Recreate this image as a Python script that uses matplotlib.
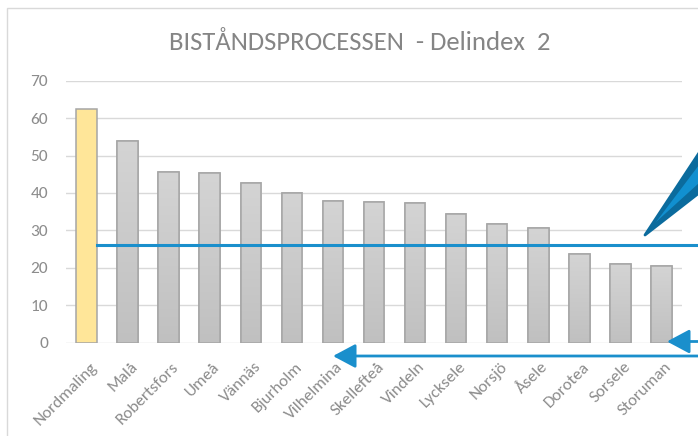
import matplotlib
matplotlib.use('Agg')
import matplotlib.pyplot as plt
import numpy as np
from matplotlib.patches import Polygon, Rectangle
from matplotlib.colors import LinearSegmentedColormap
from matplotlib.transforms import blended_transform_factory, offset_copy

categories = ['Nordmaling', 'Malå', 'Robertsfors', 'Umeå', 'Vännäs', 'Bjurholm',
              'Vilhelmina', 'Skellefteå', 'Vindeln', 'Lycksele', 'Norsjö', 'Åsele',
              'Dorotea', 'Sorsele', 'Storuman']
values = [62.5, 53.9, 45.6, 45.3, 42.8, 40.1, 37.9, 37.6, 37.2, 34.5, 31.7, 30.7,
          23.8, 21.1, 20.6]
highlight = 'Nordmaling'
reference_value = 26.1
y_ticks = [0, 10, 20, 30, 40, 50, 60, 70]
title = 'BISTÅNDSPROCESSEN  - Delindex  2'

FONT = ['Carlito', 'Open Sans', 'DejaVu Sans']
plt.rcParams['font.family'] = FONT

W, H = 698, 436
fig = plt.figure(figsize=(W / 100, H / 100), dpi=100)


def fx(px):
    return px / W


def fy(py):
    return 1 - py / H


# outer chart border
fig.patches.append(Rectangle((fx(7), fy(460)), fx(760) - fx(7), fy(8) - fy(460),
                             transform=fig.transFigure, fill=False,
                             edgecolor='#d9d9d9', linewidth=1.0, zorder=0))

ax = fig.add_axes([fx(66), fy(342.7), fx(682) - fx(66), fy(80.7) - fy(342.7)])
ax.set_xlim(-0.5, len(categories) - 0.5)
ax.set_ylim(0, 70)

x = np.arange(len(categories))
colors = ['#ffe699' if c == highlight else '#cacaca' for c in categories]
bars = ax.bar(x, values, width=0.5, color=colors, edgecolor='#a6a6a6',
              linewidth=1.1, zorder=3)

# subtle vertical gradient on the grey bars
cmap = LinearSegmentedColormap.from_list('g', ['#c0c0c0', '#d4d4d4'])
grad = np.linspace(0, 1, 256).reshape(-1, 1)
for b, c in zip(bars, categories):
    if c == highlight:
        continue
    x0, w, h = b.get_x(), b.get_width(), b.get_height()
    im = ax.imshow(grad, extent=[x0, x0 + w, 0, h], origin='lower', cmap=cmap,
                   aspect='auto', zorder=3.5, interpolation='bilinear')
    im.set_clip_path(b)
    ax.bar(b.get_x() + w / 2, h, width=w, fill=False, edgecolor='#a6a6a6',
           linewidth=1.1, zorder=4)
ax.set_xlim(-0.5, len(categories) - 0.5)
ax.set_ylim(0, 70)

ax.set_yticks(y_ticks)
ax.yaxis.grid(True, color='#d9d9d9', linewidth=1.0, zorder=0)
ax.set_axisbelow(True)
for s in ax.spines.values():
    s.set_visible(False)
ax.tick_params(axis='y', length=0, pad=13, labelsize=12.5, labelcolor='#8c8c8c')
ax.tick_params(axis='x', length=0)
ax.set_xticks(x)
ax.set_xticklabels([])

# rotated category labels
base = blended_transform_factory(ax.transData, ax.transAxes)
tr = offset_copy(base, fig=fig, x=3, y=-17, units='dots')
for xi, c in zip(x, categories):
    ax.text(xi, 0, c, transform=tr, rotation=45, rotation_mode='anchor',
            ha='right', va='top', fontsize=12.3, color='#8c8c8c')

# reference line (extends past the plot to the right edge)
line_tr = blended_transform_factory(fig.transFigure, ax.transData)
ax.plot([fx(97), 1.0], [reference_value, reference_value], transform=line_tr,
        color='#1a8fcc', linewidth=2.2, clip_on=False, zorder=5)

# arrows from the right edge
blue = '#1a8fcc'
fig.add_artist(matplotlib.patches.FancyArrowPatch(
    (fx(700), fy(341.5)), (fx(667), fy(341.5)), transform=fig.transFigure,
    arrowstyle='-|>,head_length=6,head_width=3.2', color=blue, linewidth=2.0,
    mutation_scale=2.3, shrinkA=0, shrinkB=0))
fig.add_artist(matplotlib.patches.FancyArrowPatch(
    (fx(700), fy(356)), (fx(333), fy(356)), transform=fig.transFigure,
    arrowstyle='-|>,head_length=6,head_width=3.2', color=blue, linewidth=2.0,
    mutation_scale=2.3, shrinkA=0, shrinkB=0))

# diagonal pointer shape at right
outer = [(fx(645), fy(235)), (fx(699), fy(153)), (fx(699), fy(193))]
inner = [(fx(656), fy(222)), (fx(699), fy(165)), (fx(699), fy(183))]
fig.add_artist(Polygon(outer, closed=True, transform=fig.transFigure,
                       facecolor='#0b6b9d', edgecolor='#0b6b9d', linewidth=2,
                       joinstyle='round'))
fig.add_artist(Polygon(inner, closed=True, transform=fig.transFigure,
                       facecolor='#1190d0', edgecolor='none'))

fig.text(fx(360), fy(43), title, ha='center', va='center', fontsize=19.2,
         color='#858585')

fig.savefig('out.png', dpi=100)
